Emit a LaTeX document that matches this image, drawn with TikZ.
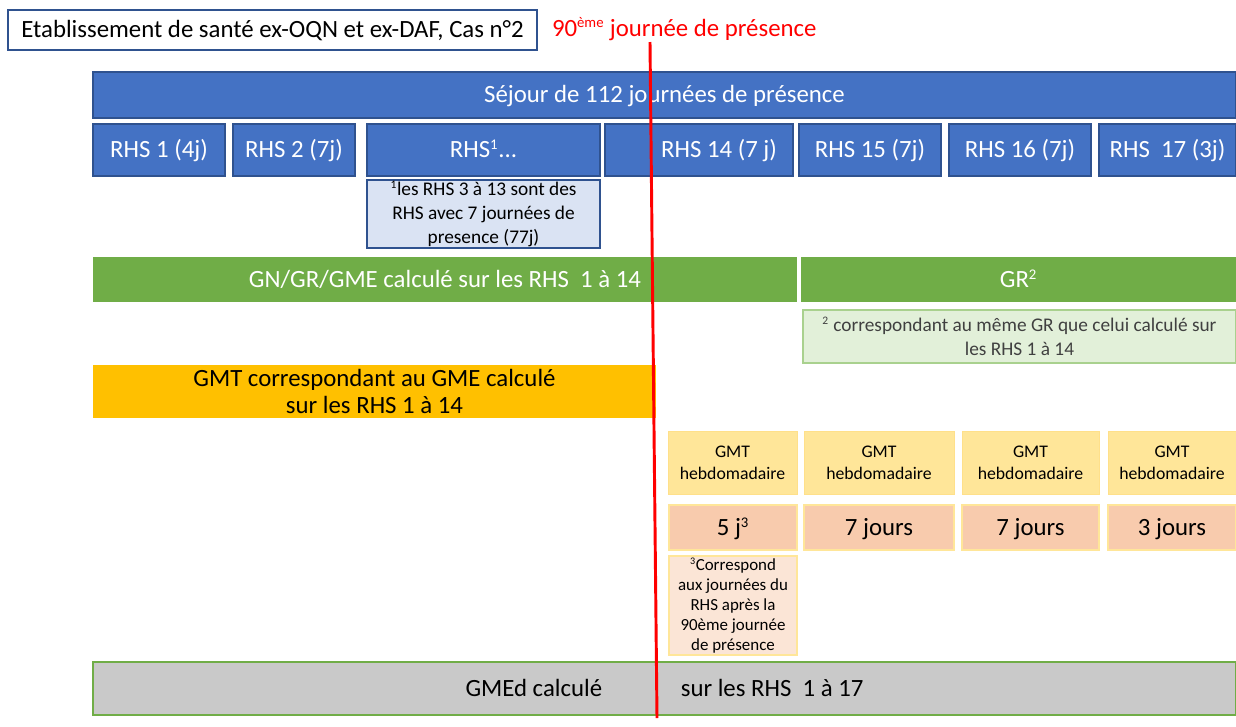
\documentclass[tikz,border=0pt]{standalone}
\usepackage{fontspec}
\setmainfont{Carlito}
\definecolor{blueA}{HTML}{4472C4}
\definecolor{blueB}{HTML}{2F528F}
\definecolor{blueL}{HTML}{DAE3F3}
\definecolor{greenA}{HTML}{70AD47}
\definecolor{greenL}{HTML}{E2F0D9}
\definecolor{greenB}{HTML}{A9D18E}
\definecolor{orangeA}{HTML}{FFC000}
\definecolor{yellowA}{HTML}{FFE699}
\definecolor{yellowB}{HTML}{FFE08A}
\definecolor{peachA}{HTML}{F8CBAD}
\definecolor{peachL}{HTML}{FBE5D6}
\definecolor{grayA}{HTML}{C9C9C9}
\definecolor{textgray}{HTML}{404040}
\definecolor{redA}{HTML}{FF0000}
\newcommand{\fbig}{\fontsize{18.6}{20.5}\selectfont}
\newcommand{\fnote}{\fontsize{14.5}{18}\selectfont}
\newcommand{\fgmt}{\fontsize{13.3}{16.5}\selectfont}
\newcommand{\fsmall}{\fontsize{12.7}{15}\selectfont}
\newcommand{\sups}[1]{\textsuperscript{\scalebox{0.85}{#1}}}
% \bx{name}{style}{x1}{y1}{x2}{y2}{text}
\newcommand{\bx}[7]{%
  \node[#2, minimum width={0.75pt*(#5-#3)}, minimum height={0.75pt*(#6-#4)}]
    (#1) at ({(#3+#5)/2},{(#4+#6)/2}) {#7};}
\tikzset{
  base/.style={inner sep=0pt, outer sep=0pt, align=center, anchor=center},
  oneline/.style={text height=15.2pt, text depth=3.4pt},
  titlebox/.style={base, oneline, fill=white, draw=blueB, line width=0.8pt, text=black, font=\fbig},
  bluebox/.style={base, oneline, fill=blueA, draw=blueB, line width=0.8pt, text=white, font=\fbig},
  note1/.style={base, fill=blueL, draw=blueB, line width=0.8pt, text=black, font=\fnote},
  greenbar/.style={base, oneline, fill=greenA, text=white, font=\fbig},
  note2/.style={base, fill=greenL, draw=greenB, line width=0.8pt, text=textgray, font=\fnote},
  orangebar/.style={base, fill=orangeA, text=black, font=\fbig},
  gmtbox/.style={base, fill=yellowA, draw=yellowB, line width=0.6pt, text=black, font=\fgmt},
  daybox/.style={base, oneline, fill=peachA, draw=yellowA, line width=0.8pt, text=black, font=\fbig},
  note3/.style={base, fill=peachL, draw=yellowA, line width=0.8pt, text=black, font=\fsmall},
  graybar/.style={base, oneline, fill=grayA, draw=greenA, line width=1pt, text=black, font=\fbig},
  redline/.style={draw=redA, line width=2.2pt},
  redtext/.style={inner sep=0pt, outer sep=0pt, text=redA, font=\fbig, anchor=west}
}
\begin{document}
\begin{tikzpicture}[x=0.75pt,y=-0.75pt]
\useasboundingbox (0,0) rectangle (1236,726);
% title
\bx{title}{titlebox}{8}{10}{537}{50}{Etablissement de santé ex-OQN et ex-DAF, Cas n°2}
\node[redtext] (ninety) at (552,29) {90\sups{ème} journée de présence};
% stay bar
\bx{sejour}{bluebox}{93}{72}{1236}{118}{Séjour de 112 journées de présence}
% RHS row
\bx{r1}{bluebox}{93}{124}{225}{176}{RHS 1 (4j)}
\bx{r2}{bluebox}{233}{124}{355}{176}{RHS 2 (7j)}
\bx{r3}{bluebox}{367}{124}{600}{176}{RHS\sups{1}...}
\bx{r14}{bluebox}{605}{124}{793}{176}{\hspace{30pt}RHS 14 (7 j)}
\bx{r15}{bluebox}{799}{124}{941}{176}{RHS 15 (7j)}
\bx{r16}{bluebox}{949}{124}{1091}{176}{RHS 16 (7j)}
\bx{r17}{bluebox}{1099}{124}{1236}{176}{RHS\ \ 17 (3j)}
% note 1
\bx{n1}{note1}{367}{180}{600}{248}{\sups{1}les RHS 3 à 13 sont des\\RHS avec 7 journées de\\presence (77j)}
% green bars
\bx{gn}{greenbar}{93}{257}{797}{302}{GN/GR/GME calculé sur les RHS\ \ 1 à 14}
\bx{gr}{greenbar}{801}{257}{1236}{302}{GR\sups{2}}
\bx{n2}{note2}{803}{310}{1236}{363}{\sups{2} correspondant au même GR que celui calculé sur\\les RHS 1 à 14}
% orange bar
\bx{gmt}{orangebar}{93}{365}{656}{418}{GMT correspondant au GME calculé\\sur les RHS 1 à 14}
% GMT hebdomadaire
\bx{h1}{gmtbox}{668}{431}{797}{494}{GMT\\hebdomadaire}
\bx{h2}{gmtbox}{804}{431}{954}{494}{GMT\\hebdomadaire}
\bx{h3}{gmtbox}{962}{431}{1099}{494}{GMT\\hebdomadaire}
\bx{h4}{gmtbox}{1108}{431}{1236}{494}{GMT\\hebdomadaire}
% days
\bx{d1}{daybox}{669}{505}{797}{550}{5 j\sups{3}}
\bx{d2}{daybox}{804}{505}{954}{550}{7 jours}
\bx{d3}{daybox}{962}{505}{1099}{550}{7 jours}
\bx{d4}{daybox}{1108}{505}{1236}{550}{3 jours}
% note 3
\bx{n3}{note3}{669}{556}{797}{655}{\sups{3}Correspond\\aux journées du\\RHS après la\\90ème journée\\de présence}
% bottom bar
\bx{gmed}{graybar}{93}{662}{1236}{715}{GMEd calculé\hspace{59pt}sur les RHS\ \ 1 à 17}
% red line
\coordinate (ltop) at (650,42);
\coordinate (lbot) at (657,718);
\draw[redline] (ltop) -- (lbot);
\end{tikzpicture}
\end{document}
